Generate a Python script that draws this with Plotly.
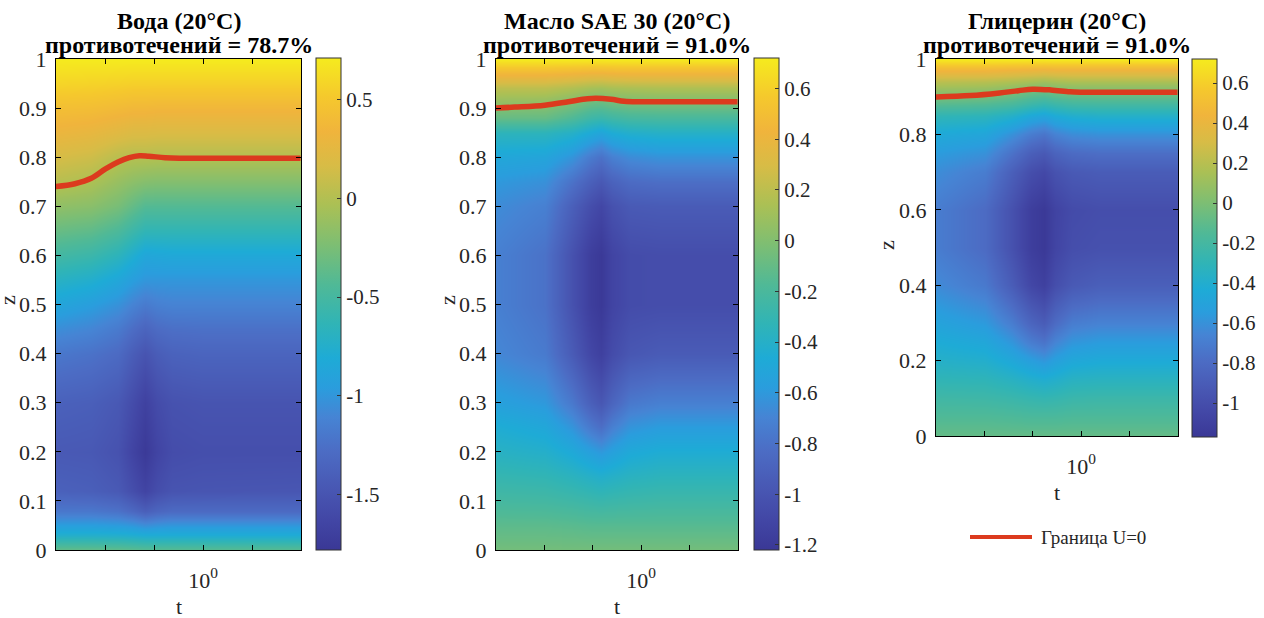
import plotly.graph_objects as go

W, H = 1264, 618

# ---------------- data ----------------
# Panel 1: Вода
t1 = [0.25, 0.35, 0.45, 0.52, 0.58, 0.65, 0.75, 1.0, 2.5]
z1 = [0, 0.03, 0.05, 0.08, 0.12, 0.2, 0.3, 0.4, 0.45, 0.5, 0.55, 0.6, 0.65,
      0.7, 0.75, 0.8, 0.85, 0.9, 0.95, 1.0]
U1 = [
    [-0.35, -0.35, -0.36, -0.38, -0.40, -0.40, -0.40, -0.40, -0.40],
    [-0.75, -0.75, -0.76, -0.78, -0.80, -0.80, -0.80, -0.80, -0.80],
    [-0.95, -0.95, -0.97, -1.00, -1.05, -1.02, -1.00, -1.00, -1.00],
    [-1.20, -1.20, -1.24, -1.32, -1.40, -1.34, -1.30, -1.30, -1.30],
    [-1.38, -1.40, -1.45, -1.56, -1.65, -1.56, -1.50, -1.49, -1.48],
    [-1.45, -1.46, -1.52, -1.66, -1.76, -1.65, -1.57, -1.55, -1.55],
    [-1.38, -1.40, -1.46, -1.58, -1.68, -1.58, -1.52, -1.50, -1.50],
    [-1.20, -1.24, -1.30, -1.42, -1.50, -1.42, -1.37, -1.35, -1.35],
    [-1.05, -1.10, -1.18, -1.28, -1.35, -1.29, -1.26, -1.25, -1.25],
    [-0.88, -0.95, -1.03, -1.12, -1.18, -1.14, -1.12, -1.12, -1.12],
    [-0.70, -0.76, -0.86, -0.95, -1.00, -1.00, -1.00, -1.00, -1.00],
    [-0.51, -0.56, -0.66, -0.77, -0.86, -0.85, -0.84, -0.84, -0.84],
    [-0.33, -0.37, -0.46, -0.56, -0.63, -0.63, -0.63, -0.63, -0.63],
    [-0.15, -0.18, -0.26, -0.35, -0.42, -0.42, -0.42, -0.42, -0.42],
    [0.02, -0.03, -0.12, -0.17, -0.20, -0.21, -0.21, -0.21, -0.21],
    [0.16, 0.12, 0.03, 0.01, 0.01, 0.00, 0.00, 0.00, 0.00],
    [0.30, 0.27, 0.22, 0.19, 0.19, 0.18, 0.18, 0.18, 0.18],
    [0.43, 0.42, 0.39, 0.37, 0.37, 0.36, 0.36, 0.36, 0.36],
    [0.58, 0.57, 0.56, 0.55, 0.55, 0.55, 0.55, 0.55, 0.55],
    [0.71, 0.71, 0.71, 0.71, 0.71, 0.71, 0.71, 0.71, 0.71],
]
line1_t = [0.25, 0.3, 0.35, 0.4, 0.45, 0.5, 0.55, 0.6, 0.7, 0.8, 1.0, 1.5, 2.5]
line1_z = [0.740, 0.746, 0.757, 0.776, 0.790, 0.799, 0.803, 0.802, 0.799,
           0.798, 0.798, 0.798, 0.798]

# Panel 2: Масло SAE 30
t2 = [0.25, 0.4, 0.52, 0.62, 0.68, 0.76, 0.9, 1.2, 2.5]
z2 = [0, 0.05, 0.1, 0.15, 0.2, 0.25, 0.3, 0.4, 0.5, 0.6, 0.7, 0.75, 0.8,
      0.85, 0.88, 0.91, 0.94, 0.97, 1.0]
U2 = [
    [-0.05, -0.05, -0.05, -0.05, -0.05, -0.05, -0.05, -0.05, -0.05],
    [-0.13, -0.13, -0.14, -0.15, -0.15, -0.15, -0.15, -0.15, -0.15],
    [-0.22, -0.23, -0.25, -0.27, -0.28, -0.27, -0.26, -0.25, -0.25],
    [-0.30, -0.32, -0.36, -0.40, -0.42, -0.40, -0.37, -0.35, -0.35],
    [-0.38, -0.41, -0.48, -0.56, -0.60, -0.55, -0.48, -0.45, -0.45],
    [-0.45, -0.50, -0.62, -0.76, -0.82, -0.72, -0.62, -0.58, -0.58],
    [-0.55, -0.60, -0.76, -0.92, -0.98, -0.88, -0.76, -0.72, -0.72],
    [-0.68, -0.75, -0.95, -1.10, -1.15, -1.06, -0.98, -0.95, -0.95],
    [-0.72, -0.80, -1.02, -1.17, -1.21, -1.12, -1.06, -1.05, -1.05],
    [-0.72, -0.80, -1.02, -1.17, -1.21, -1.12, -1.06, -1.05, -1.05],
    [-0.66, -0.72, -0.92, -1.05, -1.10, -1.02, -0.96, -0.95, -0.95],
    [-0.60, -0.64, -0.80, -0.92, -0.97, -0.90, -0.84, -0.82, -0.82],
    [-0.50, -0.52, -0.62, -0.75, -0.80, -0.72, -0.66, -0.63, -0.63],
    [-0.35, -0.35, -0.40, -0.48, -0.52, -0.46, -0.42, -0.40, -0.40],
    [-0.10, -0.10, -0.18, -0.26, -0.28, -0.25, -0.22, -0.21, -0.21],
    [0.05, 0.04, -0.02, -0.08, -0.09, -0.06, -0.04, -0.03, -0.03],
    [0.20, 0.20, 0.16, 0.12, 0.11, 0.13, 0.14, 0.15, 0.15],
    [0.44, 0.44, 0.42, 0.40, 0.40, 0.41, 0.42, 0.42, 0.42],
    [0.72, 0.72, 0.72, 0.72, 0.72, 0.72, 0.72, 0.72, 0.72],
]
line2_t = [0.25, 0.3, 0.4, 0.5, 0.6, 0.65, 0.75, 0.85, 1.0, 1.5, 2.5]
line2_z = [0.900, 0.902, 0.906, 0.913, 0.919, 0.920, 0.918, 0.914, 0.913,
           0.913, 0.913]

# Panel 3: Глицерин
t3 = [0.25, 0.4, 0.52, 0.62, 0.7, 0.78, 0.92, 1.2, 2.5]
z3 = [0, 0.05, 0.1, 0.15, 0.2, 0.25, 0.3, 0.4, 0.5, 0.6, 0.7, 0.75, 0.8,
      0.85, 0.88, 0.91, 0.94, 0.97, 1.0]
U3 = [
    [-0.08, -0.08, -0.08, -0.08, -0.08, -0.08, -0.08, -0.08, -0.08],
    [-0.15, -0.15, -0.16, -0.17, -0.17, -0.17, -0.16, -0.16, -0.16],
    [-0.22, -0.23, -0.25, -0.27, -0.28, -0.27, -0.25, -0.24, -0.24],
    [-0.30, -0.31, -0.35, -0.39, -0.41, -0.39, -0.35, -0.34, -0.34],
    [-0.37, -0.39, -0.46, -0.53, -0.57, -0.52, -0.46, -0.44, -0.44],
    [-0.43, -0.47, -0.58, -0.70, -0.75, -0.66, -0.58, -0.55, -0.55],
    [-0.50, -0.56, -0.70, -0.84, -0.90, -0.80, -0.70, -0.67, -0.67],
    [-0.63, -0.72, -0.90, -1.05, -1.10, -1.00, -0.92, -0.88, -0.88],
    [-0.70, -0.80, -0.98, -1.12, -1.16, -1.07, -1.00, -0.98, -0.98],
    [-0.70, -0.80, -0.98, -1.12, -1.16, -1.08, -1.02, -1.00, -1.00],
    [-0.62, -0.70, -0.88, -1.00, -1.04, -0.97, -0.92, -0.90, -0.90],
    [-0.55, -0.60, -0.76, -0.88, -0.92, -0.85, -0.80, -0.78, -0.78],
    [-0.45, -0.48, -0.60, -0.70, -0.74, -0.67, -0.62, -0.60, -0.60],
    [-0.30, -0.32, -0.38, -0.46, -0.49, -0.44, -0.40, -0.38, -0.38],
    [-0.12, -0.14, -0.18, -0.24, -0.27, -0.24, -0.21, -0.20, -0.20],
    [0.04, 0.02, -0.02, -0.07, -0.09, -0.06, -0.04, -0.03, -0.03],
    [0.20, 0.19, 0.16, 0.13, 0.11, 0.13, 0.15, 0.15, 0.15],
    [0.45, 0.45, 0.43, 0.42, 0.41, 0.42, 0.42, 0.42, 0.42],
    [0.72, 0.72, 0.72, 0.72, 0.72, 0.72, 0.72, 0.72, 0.72],
]
line3_t = [0.25, 0.35, 0.46, 0.55, 0.63, 0.75, 0.9, 1.0, 1.5, 2.5]
line3_z = [0.899, 0.903, 0.910, 0.916, 0.920, 0.918, 0.913, 0.912, 0.912, 0.912]

titles1 = ["Вода (20°C)", "Масло SAE 30 (20°C)", "Глицерин (20°C)"]
titles2 = ["противотечений = 78.7%", "противотечений = 91.0%", "противотечений = 91.0%"]
cb_ticks = [[-1.5, -1, -0.5, 0, 0.5],
            [-1.2, -1, -0.8, -0.6, -0.4, -0.2, 0, 0.2, 0.4, 0.6],
            [-1, -0.8, -0.6, -0.4, -0.2, 0, 0.2, 0.4, 0.6]]
cb_ranges = [(-1.78, 0.71), (-1.22, 0.72), (-1.17, 0.72)]
legend_label = "Граница U=0"

# ---------------- style ----------------
# parula-like map, tuned to the muted tones of the reference picture
colorscale = [
    [0.00, "#3a3896"], [0.06, "#4246a5"], [0.12, "#4856b2"],
    [0.20, "#4c6cc4"], [0.27, "#4684d4"], [0.33, "#2a9ddd"],
    [0.39, "#1eabd6"], [0.46, "#30b4b6"], [0.54, "#50b996"],
    [0.62, "#7dbe73"], [0.70, "#aac055"], [0.78, "#d7bc46"],
    [0.85, "#f0b43c"], [0.92, "#f5c82d"], [1.00, "#f5eb1e"],
]

SERIF = "Liberation Serif, Times New Roman, serif"
TXT = "#262626"
RED = "#DC3A1E"

def px_x(p):
    return p / W

def px_y(p):
    return 1 - p / H

# plot boxes in pixels: (left, right, top, bottom)
boxes = [(56, 301, 59, 550), (496, 738, 59, 550), (936, 1178, 59, 436)]
cbars = [(316, 58, 550), (754, 58, 550), (1192, 59, 437)]
ydticks = [0.1, 0.1, 0.2]

fig = go.Figure()
datasets = [(t1, z1, U1, line1_t, line1_z), (t2, z2, U2, line2_t, line2_z),
            (t3, z3, U3, line3_t, line3_z)]

for i, (tt, zz, UU, lt, lz) in enumerate(datasets):
    xa = "x" if i == 0 else "x%d" % (i + 1)
    ya = "y" if i == 0 else "y%d" % (i + 1)
    cbx, cbt, cbb = cbars[i]
    fig.add_trace(go.Heatmap(
        x=tt, y=zz, z=UU, xaxis=xa, yaxis=ya,
        colorscale=colorscale, zmin=cb_ranges[i][0], zmax=cb_ranges[i][1],
        zsmooth="best", hoverinfo="skip",
        colorbar=dict(
            x=px_x(cbx), xanchor="left", xpad=0, ypad=0,
            y=px_y(cbt), yanchor="top", len=(cbb - cbt) / H, lenmode="fraction",
            thickness=25, thicknessmode="pixels",
            outlinecolor="#333", outlinewidth=1,
            tickmode="array", tickvals=cb_ticks[i],
            ticktext=[("%g" % v) for v in cb_ticks[i]],
            ticks="inside", ticklen=4, tickcolor="#333",
            tickfont=dict(family=SERIF, size=21, color=TXT),
        ),
    ))
    fig.add_trace(go.Scatter(
        x=lt, y=lz, xaxis=xa, yaxis=ya, mode="lines",
        line=dict(color=RED, width=5.5, shape="spline"),
        showlegend=False, hoverinfo="skip",
    ))

layout = dict(
    width=W, height=H, margin=dict(l=0, r=0, t=0, b=0, autoexpand=False),
    paper_bgcolor="white", plot_bgcolor="white", showlegend=False,
    font=dict(family=SERIF, color=TXT),
)
annotations = []
shapes = []
for i in range(3):
    L, R, T, B = boxes[i]
    xk = "xaxis" if i == 0 else "xaxis%d" % (i + 1)
    yk = "yaxis" if i == 0 else "yaxis%d" % (i + 1)
    ya = "y" if i == 0 else "y%d" % (i + 1)
    xa = "x" if i == 0 else "x%d" % (i + 1)
    layout[xk] = dict(
        type="log", range=[-0.6, 0.4], domain=[px_x(L), px_x(R)], anchor=ya,
        tickmode="array", tickvals=[10 ** -0.4, 10 ** -0.2, 1, 10 ** 0.2],
        ticktext=["", "", "10<sup>0</sup>", ""],
        ticks="inside", ticklen=5, tickcolor="black", tickwidth=1.2,
        showline=True, linecolor="black", linewidth=1.2, mirror="ticks",
        showgrid=False, zeroline=False, ticklabelstandoff=10,
        tickfont=dict(family=SERIF, size=22, color=TXT),
    )
    layout[yk] = dict(
        range=[0, 1], domain=[px_y(B), px_y(T)], anchor=xa,
        dtick=ydticks[i], tick0=0,
        ticks="inside", ticklen=5, tickcolor="black", tickwidth=1.2,
        showline=True, linecolor="black", linewidth=1.2, mirror="ticks",
        showgrid=False, zeroline=False, ticklabelstandoff=4,
        tickfont=dict(family=SERIF, size=22, color=TXT),
    )
    cx = px_x((L + R) / 2)
    annotations.append(dict(text="<b>%s</b>" % titles1[i], x=cx, y=px_y(21),
                            xref="paper", yref="paper", showarrow=False,
                            xanchor="center", yanchor="middle",
                            font=dict(family=SERIF, size=24, color="black")))
    annotations.append(dict(text="<b>%s</b>" % titles2[i], x=cx, y=px_y(45),
                            xref="paper", yref="paper", showarrow=False,
                            xanchor="center", yanchor="middle",
                            font=dict(family=SERIF, size=24, color="black")))
    annotations.append(dict(text="t", x=cx, y=px_y(B + 56),
                            xref="paper", yref="paper", showarrow=False,
                            xanchor="center", yanchor="middle",
                            font=dict(family=SERIF, size=22, color=TXT)))
zlabel_pos = [(7, 300), (447, 300), (886, 245)]
for (zx, zy) in zlabel_pos:
    annotations.append(dict(text="z", x=px_x(zx), y=px_y(zy), xref="paper",
                            yref="paper", showarrow=False, textangle=-90,
                            xanchor="center", yanchor="middle",
                            font=dict(family=SERIF, size=22, color=TXT)))

# legend (drawn manually)
shapes.append(dict(type="line", xref="paper", yref="paper",
                   x0=px_x(970), x1=px_x(1032), y0=px_y(537), y1=px_y(537),
                   line=dict(color=RED, width=4)))
annotations.append(dict(text=legend_label, x=px_x(1039), y=px_y(537),
                        xref="paper", yref="paper", showarrow=False,
                        xanchor="left", yanchor="middle",
                        font=dict(family=SERIF, size=19, color=TXT)))
layout["annotations"] = annotations
layout["shapes"] = shapes
fig.update_layout(**layout)
fig.write_html("out.html")
